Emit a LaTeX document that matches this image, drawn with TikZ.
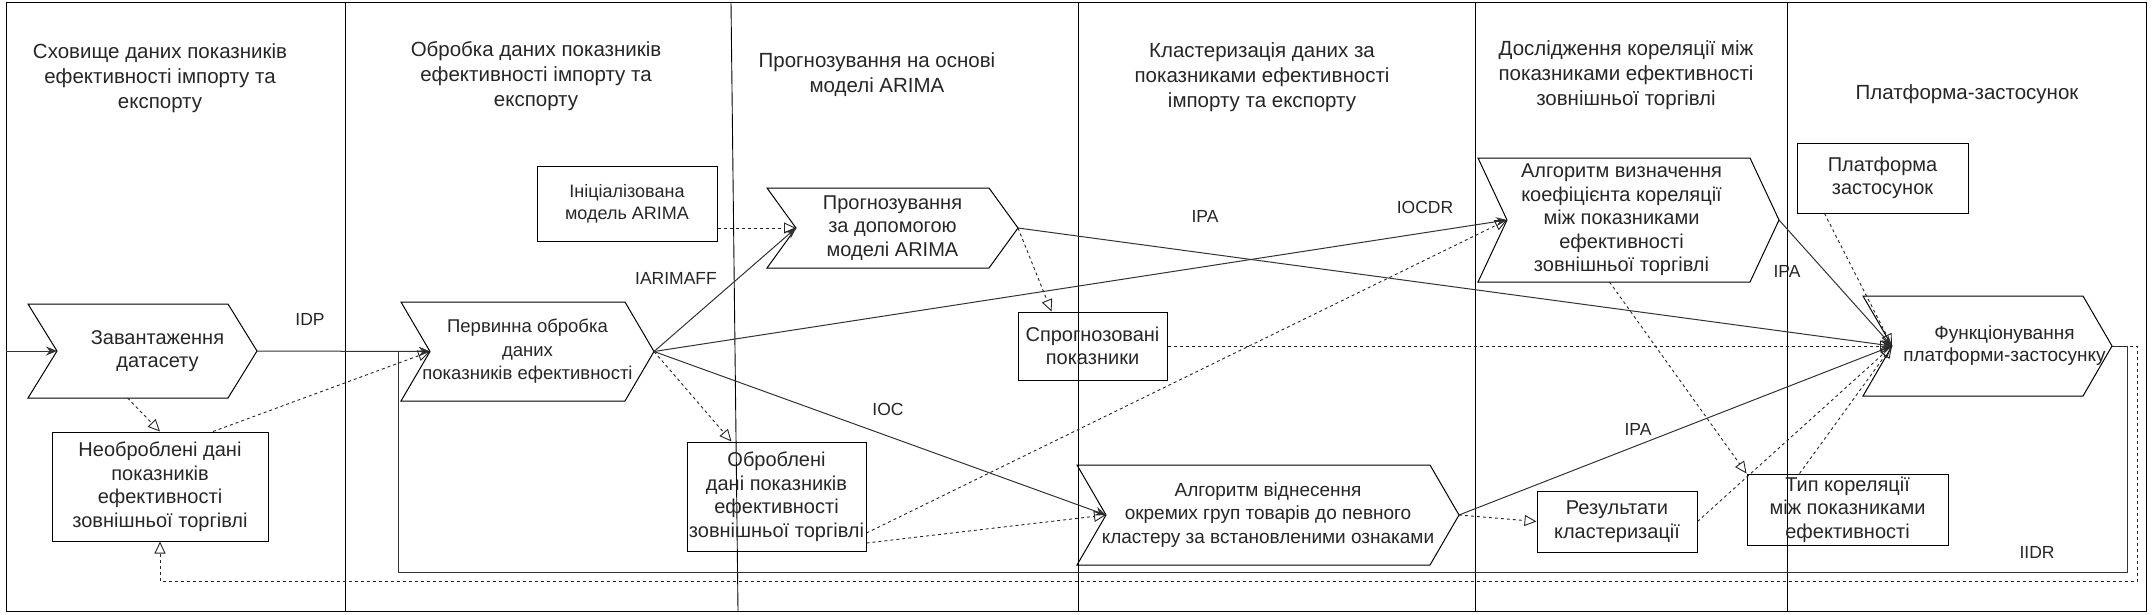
\documentclass[tikz,border=0pt]{standalone}
\usepackage{fontspec}
\setmainfont{Liberation Sans}
\usepackage{tikz}
\usetikzlibrary{arrows.meta,positioning,calc}

\newcommand{\nodefont}{\fontsize{20}{23.5}\selectfont}
\newcommand{\lanefont}{\fontsize{20.5}{25}\selectfont}
\newcommand{\lblfont}{\fontsize{17.5}{20}\selectfont}

\tikzset{
  boxline/.style={line width=1pt, draw=black},
  box/.style={boxline, align=center, inner sep=0pt, font=\nodefont, text=black!85},
  chev/.style={inner sep=0pt, outer sep=0pt},
  txt/.style={align=center, inner sep=0pt, font=\nodefont, text=black!85},
  lane/.style={align=center, font=\lanefont, text=black!85},
  lbl/.style={font=\lblfont, text=black!85},
  flow/.style={line width=1pt, draw=black!80, -{Stealth[length=11pt,width=9pt]}},
  dflow/.style={line width=0.9pt, draw=black!85, dash pattern=on 3pt off 3pt,
    -{Triangle[open,length=12pt,width=11pt]}},
}

% step shape: notch on the west anchor, point at name-end
\newcommand{\chevbox}[6][]{%
  \node[chev, minimum width=#4, minimum height=#5, label={[txt,#1]center:#6}] (#2) at #3 {};
  \draw[boxline] ([xshift=-29pt]#2.north west) -- (#2.north east) -- ([xshift=29pt]#2.east)
    -- (#2.south east) -- ([xshift=-29pt]#2.south west) -- (#2.west) -- cycle;
  \coordinate (#2-end) at ([xshift=29pt]#2.east);
}

\begin{document}
\begin{tikzpicture}[x=1pt,y=-1pt]
  \useasboundingbox (0,0) rectangle (2152,614);
  \draw[boxline] (6,2) rectangle (2146,611);
  \foreach \x in {345,1078,1475,1787} {
    \draw[boxline, line width=0.9pt] (\x,2) -- (\x,611);
  }
  \draw[boxline, line width=0.9pt] (731,2) -- (738,611);

  \node[lane] (t1) at (160,78) {Сховище даних показників\\ефективності імпорту та\\експорту};
  \node[lane] (t2) at (536,76) {Обробка даних показників\\ефективності імпорту та\\експорту};
  \node[lane] (t3) at (877,75) {Прогнозування на основі\\моделі ARIMA};
  \node[lane] (t4) at (1262,77) {Кластеризація даних за\\показниками ефективності\\імпорту та експорту};
  \node[lane] (t5) at (1626,75) {Дослідження кореляції між\\показниками ефективності\\зовнішньої торгівлі};
  \node[lane] (t6) at (1967,94) {Платформа-застосунок};

  \chevbox[xshift=15pt]{zav}{(142.5,351)}{171}{94}{Завантаження\\датасету}
  \chevbox[font=\fontsize{18.5}{23.5}\selectfont]{perv}{(527.5,351.5)}{195}{99}{Первинна обробка\\даних\\показників ефективності}
  \chevbox{prog}{(892.5,228)}{193}{80}{Прогнозування\\за допомогою\\моделі ARIMA}
  \chevbox[font=\fontsize{19}{23.5}\selectfont]{algo}{(1268,515)}{324}{100}{Алгоритм віднесення\\окремих груп товарів до певного\\кластеру за встановленими ознаками}
  \chevbox[xshift=-7pt]{korel}{(1628.5,220)}{243}{124}{Алгоритм визначення\\коефіцієнта кореляції\\між показниками\\ефективності\\зовнішньої торгівлі}
  \chevbox[xshift=17pt, font=\fontsize{19}{22}\selectfont]{func}{(1987.5,346)}{191}{100}{Функціонування\\платформи-застосунку}

  \node[box, minimum width=216, minimum height=109] (neobr) at (160,486.5) {Необроблені дані\\показників\\ефективності\\зовнішньої торгівлі};
  \node[box, minimum width=180, minimum height=75, font=\fontsize{18}{22}\selectfont] (inits) at (627,203.5) {Ініціалізована\\модель ARIMA};
  \node[box, minimum width=149, minimum height=68] (sprog) at (1092.5,346) {Спрогнозовані\\показники};
  \node[box, minimum width=179, minimum height=109] (obrob) at (776.5,496.5) {Оброблені\\дані показників\\ефективності\\зовнішньої торгівлі};
  \node[box, minimum width=160, minimum height=61] (rez) at (1617,521.5) {Результати\\кластеризації};
  \node[box, minimum width=201, minimum height=71] (tipkor) at (1847.5,509.5) {Тип кореляції\\між показниками\\ефективності};
  \node[box, minimum width=171, minimum height=70] (platf) at (1882.5,178) {Платформа\\застосунок};

  \coordinate (start) at (6,351);
  \draw[flow] (start) -- (zav.west);
  \draw[flow] (zav-end) -- (perv.west);
  \draw[flow] (perv-end) -- (prog.west);
  \draw[flow] (perv-end) -- (korel.west);
  \draw[flow] (perv-end) -- (algo.west);
  \draw[flow] (prog-end) -- (func.west);
  \draw[flow] (korel-end) -- (func.west);
  \draw[flow] (algo-end) -- (func.west);
  \draw[flow] (func-end) -- ++(15,0) |- (398,572) |- (perv.west);

  \draw[dflow] ([xshift=-15pt]zav.south) -- (neobr.north);
  \draw[dflow] ([xshift=53pt]neobr.north) -- (perv.west);
  \draw[dflow] (perv-end) -- ([xshift=45pt]obrob.north west);
  \draw[dflow] (inits.east |- prog.west) -- (prog.west);
  \draw[dflow] (prog-end) -- ([xshift=-41pt]sprog.north);
  \draw[dflow] (sprog.east) -- (func.west);
  \draw[dflow] ([yshift=-36.5pt]obrob.east) -- (korel.west);
  \draw[dflow] ([yshift=-46.5pt]obrob.east) -- (algo.west);
  \draw[dflow] (algo-end) -- (rez.west);
  \draw[dflow] ([xshift=-19pt]korel.south) -- (tipkor.north west);
  \draw[dflow] (rez.east) -- (func.west);
  \draw[dflow] ([xshift=-48pt]tipkor.north) -- (func.west);
  \draw[dflow] ([xshift=-58pt]platf.south) -- (func.west);
  \draw[dflow] (func-end) -- ++(25,0) |- ([yshift=-40pt]neobr.south) -- (neobr.south);

  \node[lbl] (l-idp) at (310,319) {IDP};
  \node[lbl] (l-iarima) at (676,278) {IARIMAFF};
  \node[lbl] (l-ipa1) at (1205,216) {IPA};
  \node[lbl] (l-iocdr) at (1425,207) {IOCDR};
  \node[lbl] (l-ioc) at (888,409) {IOC};
  \node[lbl] (l-ipa2) at (1787,271) {IPA};
  \node[lbl] (l-ipa3) at (1638,429) {IPA};
  \node[lbl] (l-iidr) at (2037,552) {IIDR};
\end{tikzpicture}
\end{document}
